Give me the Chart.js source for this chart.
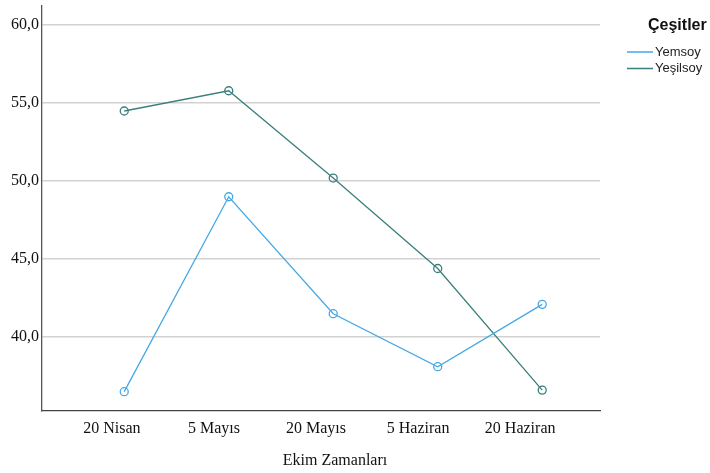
<!DOCTYPE html>
<html><head><meta charset="utf-8">
<script src="https://cdn.jsdelivr.net/npm/chart.js@4"></script>
<style>html,body{margin:0;padding:0;background:#fff}#wrap{width:710px;height:473px;position:relative}</style>
</head><body><div id="wrap"><canvas id="c" width="710" height="473"></canvas></div>
<script>
const categories = ["20 Nisan", "5 Mayıs", "20 Mayıs", "5 Haziran", "20 Haziran"];
const yemsoy = [36.5, 49.0, 41.5, 38.1, 42.1];
const yesilsoy = [54.5, 55.8, 50.2, 44.4, 36.6];
const yTicks = [40, 45, 50, 55, 60];
const seriesNames = ["Yemsoy", "Yeşilsoy"];
const legendTitle = "Çeşitler";
const xTitle = "Ekim Zamanları";

const colors = ["#45a8e6", "#3b7f7c"];
const toPts = arr => arr.map((v, i) => ({x: i, y: v}));
const serif = '"Liberation Serif", "Times New Roman", serif';

const legendPlugin = {
  id: 'customLegend',
  afterDraw(chart) {
    const ctx = chart.ctx;
    ctx.save();
    ctx.textBaseline = 'middle';
    ctx.textAlign = 'center';
    ctx.fillStyle = '#111';
    ctx.font = '16px ' + serif;
    ctx.fillText(xTitle, 335, 461);
    ctx.textAlign = 'left';
    ctx.font = 'bold 16px "Liberation Sans", Arial, sans-serif';
    ctx.fillText(legendTitle, 648, 26);
    ctx.font = '13px "Liberation Sans", Arial, sans-serif';
    chart.data.datasets.forEach((ds, i) => {
      const y = 52 + i * 16.5;
      ctx.strokeStyle = ds.borderColor;
      ctx.lineWidth = 1.5;
      ctx.beginPath(); ctx.moveTo(627, y); ctx.lineTo(653, y); ctx.stroke();
      ctx.fillStyle = '#222';
      ctx.fillText(ds.label, 655, y);
    });
    ctx.restore();
  }
};

new Chart(document.getElementById('c'), {
  type: 'line',
  data: {
    datasets: [
      {label: seriesNames[0], data: toPts(yemsoy), borderColor: colors[0], backgroundColor: '#fff',
       borderWidth: 1.3, pointRadius: 4, pointBorderWidth: 1.3, pointBackgroundColor: 'rgba(255,255,255,0)', tension: 0},
      {label: seriesNames[1], data: toPts(yesilsoy), borderColor: colors[1], backgroundColor: '#fff',
       borderWidth: 1.3, pointRadius: 4, pointBorderWidth: 1.3, pointBackgroundColor: 'rgba(255,255,255,0)', tension: 0}
    ]
  },
  options: {
    responsive: false,
    animation: false,
    layout: {padding: {top: 5, right: 110, left: 0, bottom: 0}},
    plugins: {legend: {display: false}, tooltip: {enabled: false}},
    scales: {
      x: {
        type: 'linear',
        display: false,
        min: -0.787, max: 4.553
      },
      xLabels: {
        type: 'linear',
        position: 'bottom',
        min: -0.684, max: 4.782,
        afterBuildTicks: s => { s.ticks = categories.map((c, i) => ({value: i})); },
        afterFit: s => { s.height = 62; s.paddingLeft = 0; s.paddingRight = 0; },
        grid: {display: false, drawTicks: false},
        border: {display: true, color: '#444', width: 1.3},
        ticks: {
          callback: v => categories[v],
          color: '#111', padding: 8, maxRotation: 0, autoSkip: false,
          font: {family: serif, size: 16}
        }
      },
      y: {
        type: 'linear',
        min: 35.26, max: 61.28,
        afterBuildTicks: s => { s.ticks = yTicks.map(v => ({value: v})); },
        afterFit: s => { s.width = 42; s.paddingTop = 0; s.paddingBottom = 0; },
        grid: {color: '#d2d2d2', lineWidth: 1.6, drawTicks: false},
        border: {display: true, color: '#555', width: 1.3},
        ticks: {
          callback: v => v.toFixed(1).replace('.', ','),
          color: '#111', padding: 3,
          font: {family: serif, size: 16}
        }
      }
    }
  },
  plugins: [legendPlugin]
});
</script></body></html>
